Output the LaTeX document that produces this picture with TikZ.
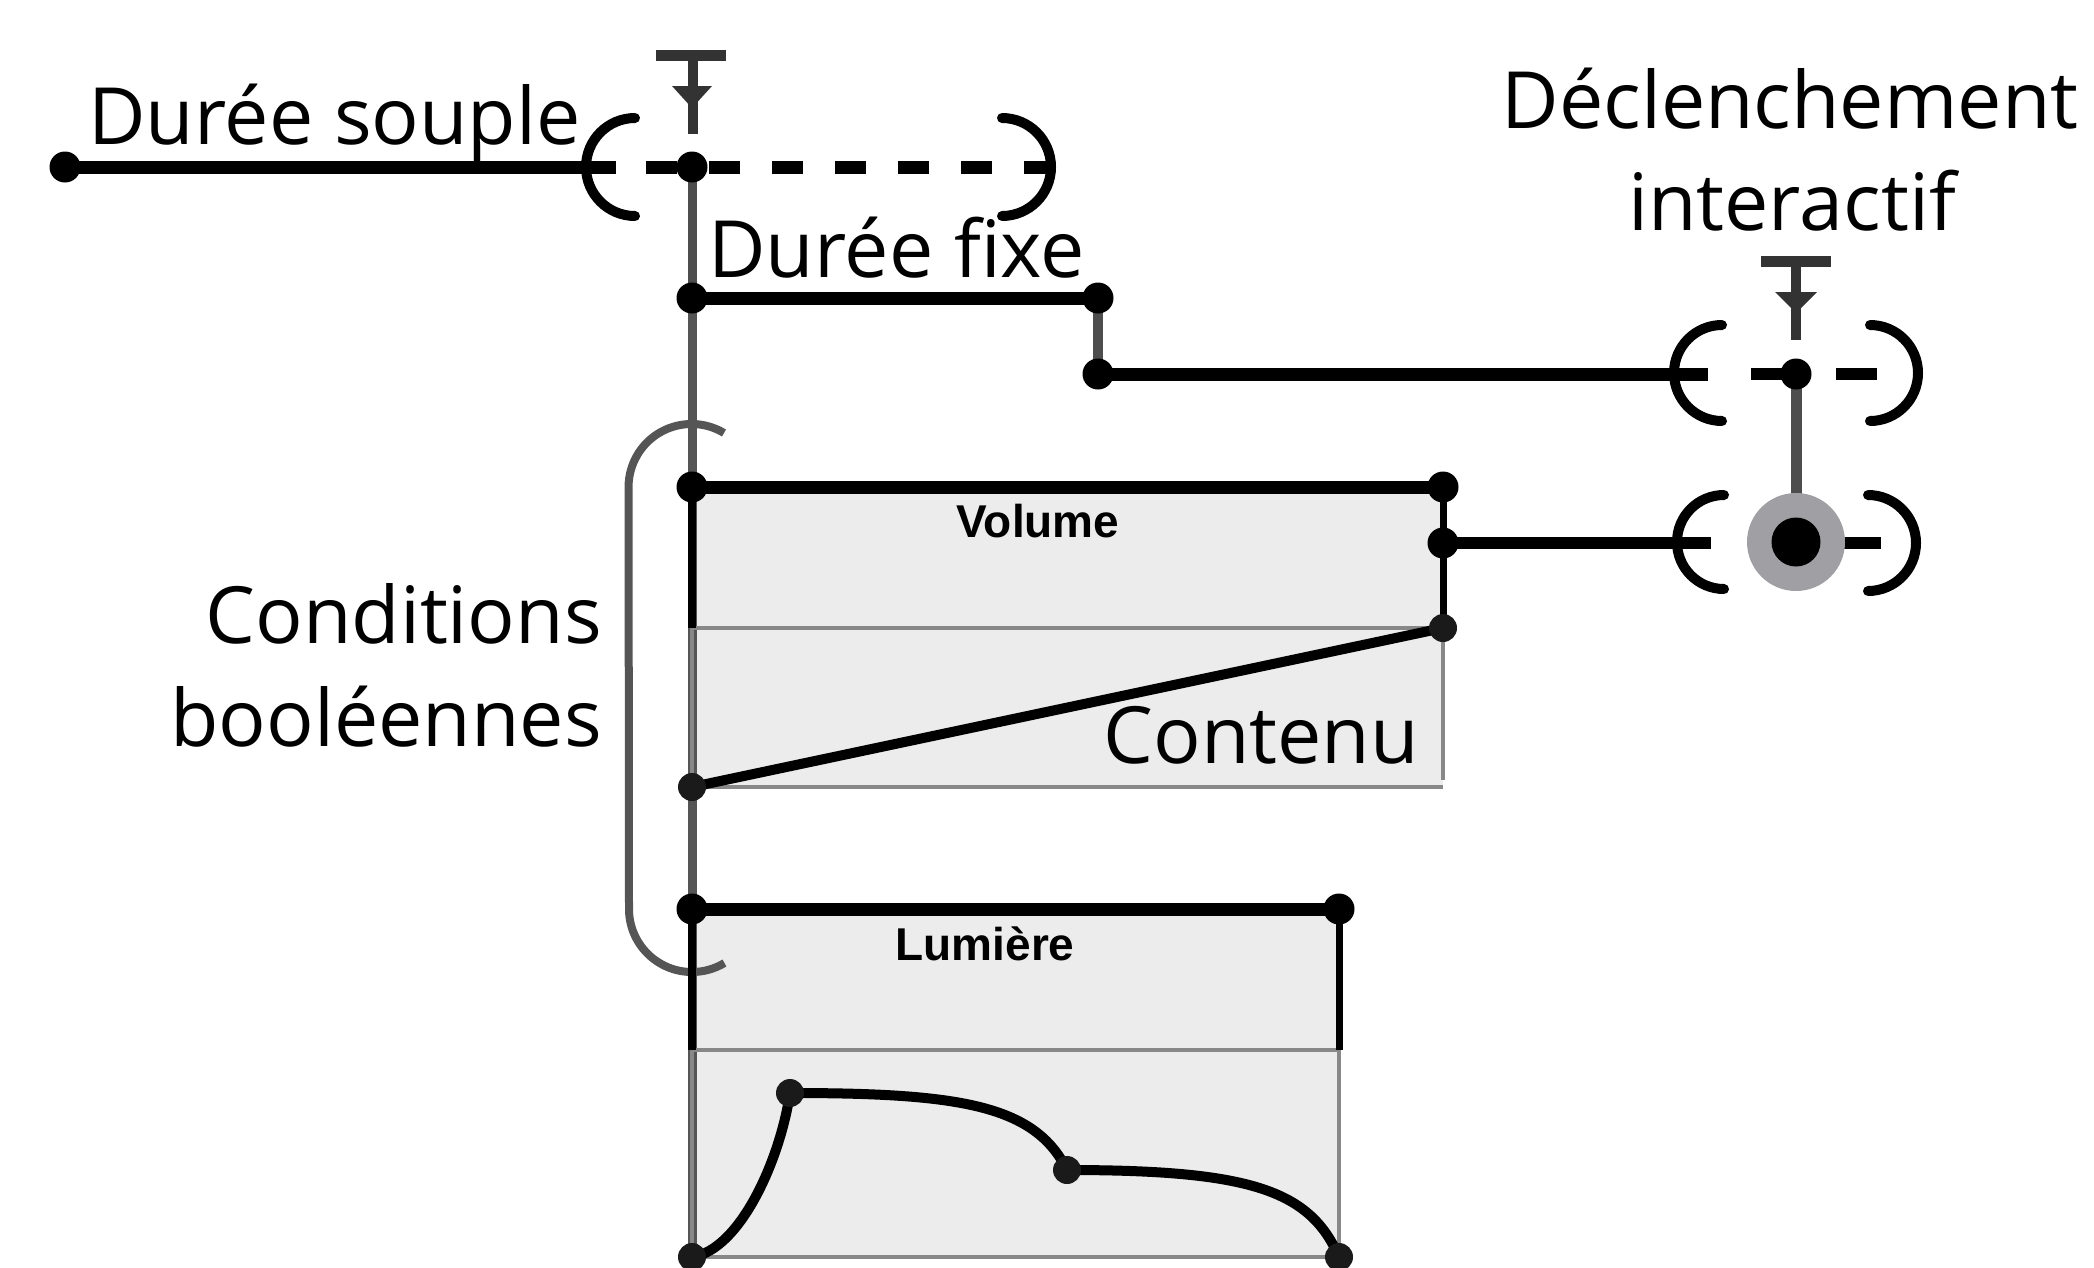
\documentclass[tikz,border=0pt]{standalone}
\usepackage{fontspec}
\setmainfont{Open Sans}
\newfontfamily\labelfont{Liberation Sans}
\definecolor{linegray}{HTML}{555555}
\definecolor{stemgray}{HTML}{4D4D4D}
\definecolor{boxfill}{HTML}{ECECEC}
\definecolor{framegray}{HTML}{888888}
\definecolor{dotgray}{HTML}{1A1A1A}
\definecolor{ringgray}{HTML}{A0A0A4}
\definecolor{trig}{HTML}{333333}
\begin{document}
\begin{tikzpicture}[x=1pt,y=-1pt,
  dot/.style={circle,fill=black,inner sep=0pt,minimum size=31pt},
  sdot/.style={circle,fill=dotgray,inner sep=0pt,minimum size=28pt},
  pt/.style={inner sep=0pt,minimum size=0pt},
  blk/.style={line width=13pt,black},
  gline/.style={line width=9pt,color=linegray},
  brk/.style={line width=10pt,line cap=round,black},
  framel/.style={line width=4pt,color=framegray},
  curve/.style={line width=10pt,black},
  txt/.style={inner sep=0pt,font=\fontsize{79}{95}\selectfont},
  lbl/.style={inner sep=0pt,font=\labelfont\bfseries\fontsize{46}{54}\selectfont},
  trigfill/.style={fill=trig}]
\useasboundingbox (0,0) rectangle (2094,1267);

% box fills
\fill[boxfill] (692,487) rectangle (1443,787);
\fill[boxfill] (692,909) rectangle (1339,1257);

% named points
\node[pt] (ls) at (65,167) {};
\node[pt] (top) at (692,167) {};
\node[pt] (fx1) at (692,298) {};
\node[pt] (fx2) at (1098,298) {};
\node[pt] (fx3) at (1098,374) {};
\node[pt] (tr1) at (1796,374) {};
\node[pt] (tr2) at (1796,542) {};
\node[pt] (v1) at (692,487) {};
\node[pt] (v2) at (1443,487) {};
\node[pt] (v2b) at (1443,543) {};
\node[pt] (v4) at (1443,628) {};
\node[pt] (v3) at (692,787) {};
\node[pt] (l1) at (692,909) {};
\node[pt] (l2) at (1339,909) {};
\node[pt] (l3) at (692,1257) {};
\node[pt] (l4) at (1339,1257) {};
\node[pt] (k1) at (790,1093) {};
\node[pt] (k2) at (1067,1170) {};
\coordinate (lsend) at (616,167);
\coordinate (dashA) at (646,167);
\coordinate (dashB) at (1050,167);
\coordinate (fxend) at (1708,374);
\coordinate (trdA) at (1751,374);
\coordinate (trdB) at (1836,374);
\coordinate (trdC) at (1877,374);
\coordinate (vend) at (1711,543);
\coordinate (rdA) at (1844,543);
\coordinate (rdB) at (1881,543);

% main vertical timeline
\draw[gline,color=stemgray] (top.center) -- (fx1.center);
\draw[gline] (fx1.center) -- (l3.center);

% conditions bracket
\draw[line width=8pt,color=linegray] (724,433) arc[start angle=-59,end angle=-180,radius=63]
   -- (629,909) arc[start angle=180,end angle=59,radius=63];

% Volume box frame
\draw[framel] (692,628) -- (v4.center);
\draw[framel] (v3.center) -- (1443,787);
\draw[framel] (v4.center) -- (1443,780);
\draw[framel] (692,628) -- (v3.center);
\draw[line width=8pt] (v1.center) -- (692,628);
\draw[line width=7pt] (v2.center) -- (v4.center);
\draw[blk] (v1.center) -- (v2.center);
\draw[line width=10pt] (v3.center) -- (v4.center);

% Lumiere box frame
\draw[framel] (692,1050) -- (1339,1050);
\draw[framel] (l3.center) -- (l4.center);
\draw[framel] (1339,1050) -- (l4.center);
\draw[framel] (692,1050) -- (l3.center);
\draw[line width=8pt] (l1.center) -- (692,1050);
\draw[line width=7pt] (l2.center) -- (1339,1050);
\draw[blk] (l1.center) -- (l2.center);
\draw[curve] (l3.center) .. controls (740,1250) and (780,1160) .. (k1.center)
  .. controls (960,1093) and (1035,1105) .. (k2.center)
  .. controls (1250,1170) and (1310,1190) .. (l4.center);

% flexible duration
\draw[blk] (ls.center) -- (lsend);
\draw[blk,dash pattern=on 31pt off 32pt] (dashA) -- (dashB);
\draw[brk] (635,118) arc[start angle=-90,end angle=-270,radius=49];
\draw[brk] (1002,118) arc[start angle=-90,end angle=90,radius=49];

% trigger symbol top-left
\fill[trigfill] (656,50) rectangle (726,61);
\fill[trigfill] (688,61) rectangle (698,134);
\fill[trigfill] (672,86) -- (712,86) -- (692,108) -- cycle;

% fixed duration
\draw[blk] (fx1.center) -- (fx2.center);
\draw[line width=10pt,color=stemgray] (fx2.center) -- (fx3.center);
\draw[blk] (fx3.center) -- (fxend);

% interactive trigger (top)
\draw[line width=12pt] (trdA) -- (tr1.center);
\draw[line width=12pt] (trdB) -- (trdC);
\draw[brk] (1722,325) arc[start angle=-90,end angle=-270,radius=48];
\draw[brk] (1870,325) arc[start angle=-90,end angle=90,radius=48];
\fill[trigfill] (1761,256) rectangle (1831,267);
\fill[trigfill] (1791,267) rectangle (1801,340);
\fill[trigfill] (1775,292) -- (1817,292) -- (1796,313) -- cycle;
\draw[line width=11pt,color=stemgray] (tr1.center) -- (tr2.center);

% interactive trigger (bottom)
\draw[line width=12pt] (v2b.center) -- (vend);
\draw[line width=12pt] (rdA) -- (rdB);
\draw[brk] (1724,495) arc[start angle=-90,end angle=-270,radius=47];
\draw[brk] (1868,495) arc[start angle=-90,end angle=90,radius=48];
\fill[ringgray] (tr2.center) circle[radius=49];
\fill[black] (tr2.center) circle[radius=24.5];

% dots
\foreach \n in {ls,top,fx1,fx2,fx3,tr1,v1,v2,v2b,l1,l2}
  \node[dot] at (\n.center) {};
\foreach \n in {v3,v4,k1,k2,l3,l4}
  \node[sdot] at (\n.center) {};

% texts
\node[txt,anchor=base west] (tsouple) at (88,144) {Durée souple};
\node[txt,anchor=base west] (tfixe) at (708,277) {Durée fixe};
\node[txt,anchor=base] (tdecl) at (1790,128) {Déclenchement};
\node[txt,anchor=base] (tinter) at (1792,230) {interactif};
\node[txt,anchor=base east] (tcond) at (602,643) {Conditions};
\node[txt,anchor=base east] (tbool) at (602,746) {booléennes};
\node[txt,anchor=base east] (tcont) at (1419,763) {Contenu};
\node[lbl,anchor=base] (tvol) at (1038,537) {Volume};
\node[lbl,anchor=base] (tlum) at (985,960) {Lumière};
\end{tikzpicture}
\end{document}
